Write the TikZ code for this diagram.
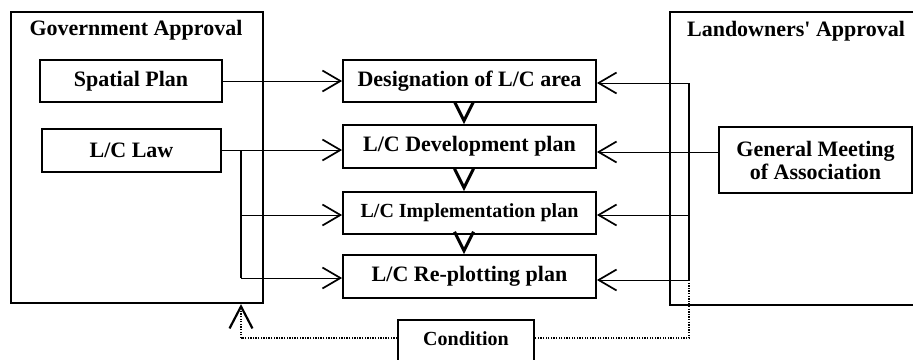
\documentclass[tikz,border=0pt]{standalone}
\usepackage{fontspec}
\setmainfont{Liberation Serif}
\usetikzlibrary{arrows.meta}
\begin{document}
\begin{tikzpicture}[x=1pt,y=-1pt,
  every node/.style={font=\fontsize{22}{24}\selectfont\bfseries, inner sep=0pt, align=center},
  panel/.style={draw, line width=2.2pt},
  planbox/.style={draw, line width=1.8pt},
  stepbox/.style={draw, line width=1.8pt, minimum width=253pt},
  link/.style={line width=1pt, -{Straight Barb[length=18pt,width=21pt,line width=1.7pt]}},
  flow/.style={line width=3pt, shorten <=15pt, -{Straight Barb[length=19pt,width=19pt,line width=3pt]}},
  spine/.style={line width=2pt},
  cond/.style={line width=2pt, dash pattern=on 1.3pt off 1.3pt},
  condarrow/.style={cond, -{Straight Barb[length=22pt,width=23pt,line width=2.2pt]}}]
\useasboundingbox (0,0) rectangle (913,359);
\fill[white] (0,0) rectangle (913,359);
\clip (0,0) rectangle (913,359);

% approval panels
\node[panel, minimum width=252pt, minimum height=291pt] (gov) at (137,157.5) {};
\node (govtitle) at (136,30) {Government Approval};
\node[panel, minimum width=262pt, minimum height=293pt] (land) at (801,158.5) {};
\node (landtitle) at (796,31) {Landowners\textquotesingle\ Approval};

% government side
\node[planbox, minimum width=182pt, minimum height=42pt] (spatial) at (131,81) {Spatial Plan};
\node[planbox, minimum width=179pt, minimum height=43pt] (law) at (131.5,150.5) {L/C Law};

% landowners side
\node[planbox, minimum width=193pt, minimum height=66pt] (meeting) at (815.5,160)
  {General Meeting\\[-1pt]of Association};

% procedure steps
\node[stepbox, minimum height=42pt] (des) at (469.5,81) {Designation of L/C area};
\node[stepbox, minimum height=43pt] (dev) at (469.5,146.5) {L/C Development plan};
\node[stepbox, minimum height=42pt] (imp) at (469.5,213)
  {\fontsize{20}{22}\selectfont L/C Implementation plan};
\node[stepbox, minimum height=43pt] (rep) at (469.5,276.5) {L/C Re-plotting plan};

% condition box, open at the lower edge of the sheet
\node[planbox, minimum width=136pt, minimum height=50pt] (condbox) at (466,345)
  {\raisebox{12pt}{\fontsize{20}{22}\selectfont Condition}};

% step order
\draw[flow] ([xshift=-5.5pt]des.south) -- ([xshift=-5.5pt]dev.north);
\draw[flow] ([xshift=-5.5pt]dev.south) -- ([xshift=-5.5pt]imp.north);
\draw[flow] ([xshift=-5.5pt]imp.south) -- ([xshift=-5.5pt]rep.north);

% government inputs
\coordinate (lawtop) at (241,150);
\coordinate (lawmid) at (241,215);
\coordinate (lawbot) at (241,278);
\draw[link] (spatial.east) -- (des.west);
\draw[link] (law.east |- lawtop) -- (dev.west |- lawtop);
\draw[spine] (lawtop) -- (lawbot);
\draw[link] (lawmid) -- (imp.west |- lawmid);
\draw[link] (lawbot) -- (rep.west |- lawbot);

% landowners inputs
\coordinate (ltop) at (689,83);
\coordinate (lmid) at (689,215);
\coordinate (lbot) at (689,280);
\draw[spine] (ltop) -- (lbot);
\draw[link] (ltop) -- (des.east |- ltop);
\draw[link] (meeting.west |- 0,152) -- (dev.east |- 0,152);
\draw[link] (lmid) -- (imp.east |- lmid);
\draw[link] (lbot) -- (rep.east |- lbot);

% condition loop
\coordinate (cright) at (689,338);
\coordinate (cleft) at (241,338);
\draw[cond] (lbot) -- (cright) -- (condbox.east |- cright);
\draw[cond] (condbox.west |- cleft) -- (cleft);
\draw[condarrow] (cleft) -- (gov.south -| cleft);
\end{tikzpicture}
\end{document}
